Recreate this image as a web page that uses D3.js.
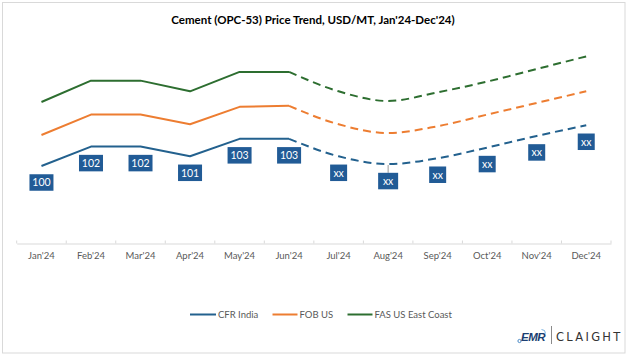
<!DOCTYPE html>
<html>
<head>
<meta charset="utf-8">
<script src="https://cdn.jsdelivr.net/npm/d3@7/dist/d3.min.js"></script>
<style>
html,body{margin:0;padding:0;background:#fff;}
svg{display:block;}
</style>
</head>
<body>
<svg id="chart" width="628" height="357"></svg>
<script>
const months = ["Jan'24","Feb'24","Mar'24","Apr'24","May'24","Jun'24","Jul'24","Aug'24","Sep'24","Oct'24","Nov'24","Dec'24"];
const cfrIndia = [100.0,102.0,102.0,101.0,102.8,102.8,101.0,100.2,100.8,101.9,103.1,104.2];
const fobUS    = [103.2,105.3,105.3,104.3,106.1,106.2,104.3,103.4,104.1,105.3,106.5,107.7];
const fasUS    = [106.6,108.8,108.8,107.7,109.7,109.7,107.7,106.7,107.6,108.7,110.0,111.3];
const cfrLabels = ["100","102","102","101","103","103","xx","xx","xx","xx","xx","xx"];
const actualCount = 6; // Jan..Jun actual, Jun..Dec forecast
const seriesNames = ["CFR India","FOB US","FAS US East Coast"];
const seriesColors = ["#23618e","#ed7d31","#2d6e30"];

const svg = d3.select("#chart");

// border
svg.append("rect").attr("x",2.5).attr("y",2.5).attr("width",622.5).attr("height",350.5)
  .attr("fill","#fff").attr("stroke","#d9d9d9").attr("stroke-width",1);

// title
svg.append("text").attr("x",313).attr("y",24).attr("text-anchor","middle")
  .attr("font-family","Lato, 'Open Sans', sans-serif").attr("font-weight","bold")
  .attr("font-size",11.5).attr("fill","#000")
  .text("Cement (OPC-53) Price Trend, USD/MT, Jan'24-Dec'24)");

const x = d3.scaleBand().domain(months).range([16.7,611]).paddingInner(0).paddingOuter(0);
const y = d3.scaleLinear().domain([100,110]).range([166,69]);

// axis
const axisG = svg.append("g").attr("transform","translate(0,243.5)");
const axis = d3.axisBottom(x).tickSize(0).tickPadding(9);
axisG.call(axis);
axisG.select(".domain").attr("stroke","#d9d9d9");
axisG.selectAll("text").attr("font-family","Lato, 'Open Sans', sans-serif").attr("font-size",9.5).attr("fill","#595959");
const bounds = months.map(m => x(m)).concat([x(months[months.length-1]) + x.bandwidth()]);
axisG.selectAll("line.bt").data(bounds).enter().append("line").attr("class","bt")
  .attr("x1",d=>d).attr("x2",d=>d).attr("y1",-3).attr("y2",0).attr("stroke","#d9d9d9");

const cx = m => x(m) + x.bandwidth()/2;
const data = [cfrIndia, fobUS, fasUS];

const lineSolid = d3.line().x(d=>cx(d.m)).y(d=>y(d.v)).curve(d3.curveLinear);
const lineDash = d3.line().x(d=>cx(d.m)).y(d=>y(d.v)).curve(d3.curveMonotoneX);

data.forEach((vals,i) => {
  const pts = vals.map((v,j)=>({m:months[j], v}));
  svg.append("path").datum(pts.slice(0,actualCount))
    .attr("d",lineSolid).attr("fill","none").attr("stroke",seriesColors[i])
    .attr("stroke-width",2).attr("stroke-linejoin","round");
  svg.append("path").datum(pts.slice(actualCount-1))
    .attr("d",lineDash).attr("fill","none").attr("stroke",seriesColors[i])
    .attr("stroke-width",2).attr("stroke-dasharray","8,5");
});

// data labels for CFR India
const lblG = svg.append("g");
cfrIndia.forEach((v,j) => {
  const px = cx(months[j]), py = y(v);
  const txt = cfrLabels[j];
  const w = txt.length === 3 ? 24 : 17;
  const h = 16.5;
  let cy = py + 16.5;
  if (months[j] === "Aug'24") {
    cy = py + 17;
    lblG.append("line").attr("x1",px).attr("x2",px).attr("y1",py+1).attr("y2",cy-h/2)
      .attr("stroke","#7f7f7f").attr("stroke-width",0.8);
  }
  const bw = months[j] === "Aug'24" ? 20 : w;
  lblG.append("rect").attr("x",px-bw/2).attr("y",cy-h/2).attr("width",bw).attr("height",h)
    .attr("fill","#215b96");
  lblG.append("text").attr("x",px).attr("y",cy+3.8).attr("text-anchor","middle")
    .attr("font-family","Lato, 'Open Sans', sans-serif").attr("font-size",10.5).attr("fill","#fff")
    .text(txt);
});

// legend
const legendItems = [
  {name:seriesNames[0], x1:190, x2:216},
  {name:seriesNames[1], x1:272.5, x2:297.5},
  {name:seriesNames[2], x1:347.5, x2:372.5}
];
const lg = svg.append("g");
legendItems.forEach((d,i)=>{
  lg.append("line").attr("x1",d.x1).attr("x2",d.x2).attr("y1",314.5).attr("y2",314.5)
    .attr("stroke",seriesColors[i]).attr("stroke-width",2);
  lg.append("text").attr("x",d.x2+2).attr("y",318).attr("font-family","Lato, 'Open Sans', sans-serif")
    .attr("font-size",9.5).attr("fill","#595959").text(d.name);
});

// logo
const logo = svg.append("g");
logo.append("circle").attr("cx",519.5).attr("cy",341).attr("r",1.6).attr("fill","none").attr("stroke","#3a7fc1").attr("stroke-width",0.9);
logo.append("text").attr("x",521).attr("y",341).attr("font-family","'Liberation Sans', Arial, sans-serif")
  .attr("font-weight","bold").attr("font-style","italic").attr("font-size",11.5).attr("fill","#1c3f72")
  .attr("letter-spacing",-0.5).text("EMR");
logo.append("path").attr("d","M541.5,329.5 a4,4 0 0 1 4,4").attr("fill","none").attr("stroke","#5aa0d8").attr("stroke-width",0.8);
logo.append("line").attr("x1",551.5).attr("x2",551.5).attr("y1",326).attr("y2",344).attr("stroke","#8a8a8a").attr("stroke-width",1);
logo.append("text").attr("x",556).attr("y",341).attr("font-family","'DejaVu Sans', sans-serif")
  .attr("font-size",11.5).attr("font-weight","normal").attr("fill","#333").attr("letter-spacing",2.3).text("CLAIGHT");
</script>
</body>
</html>
